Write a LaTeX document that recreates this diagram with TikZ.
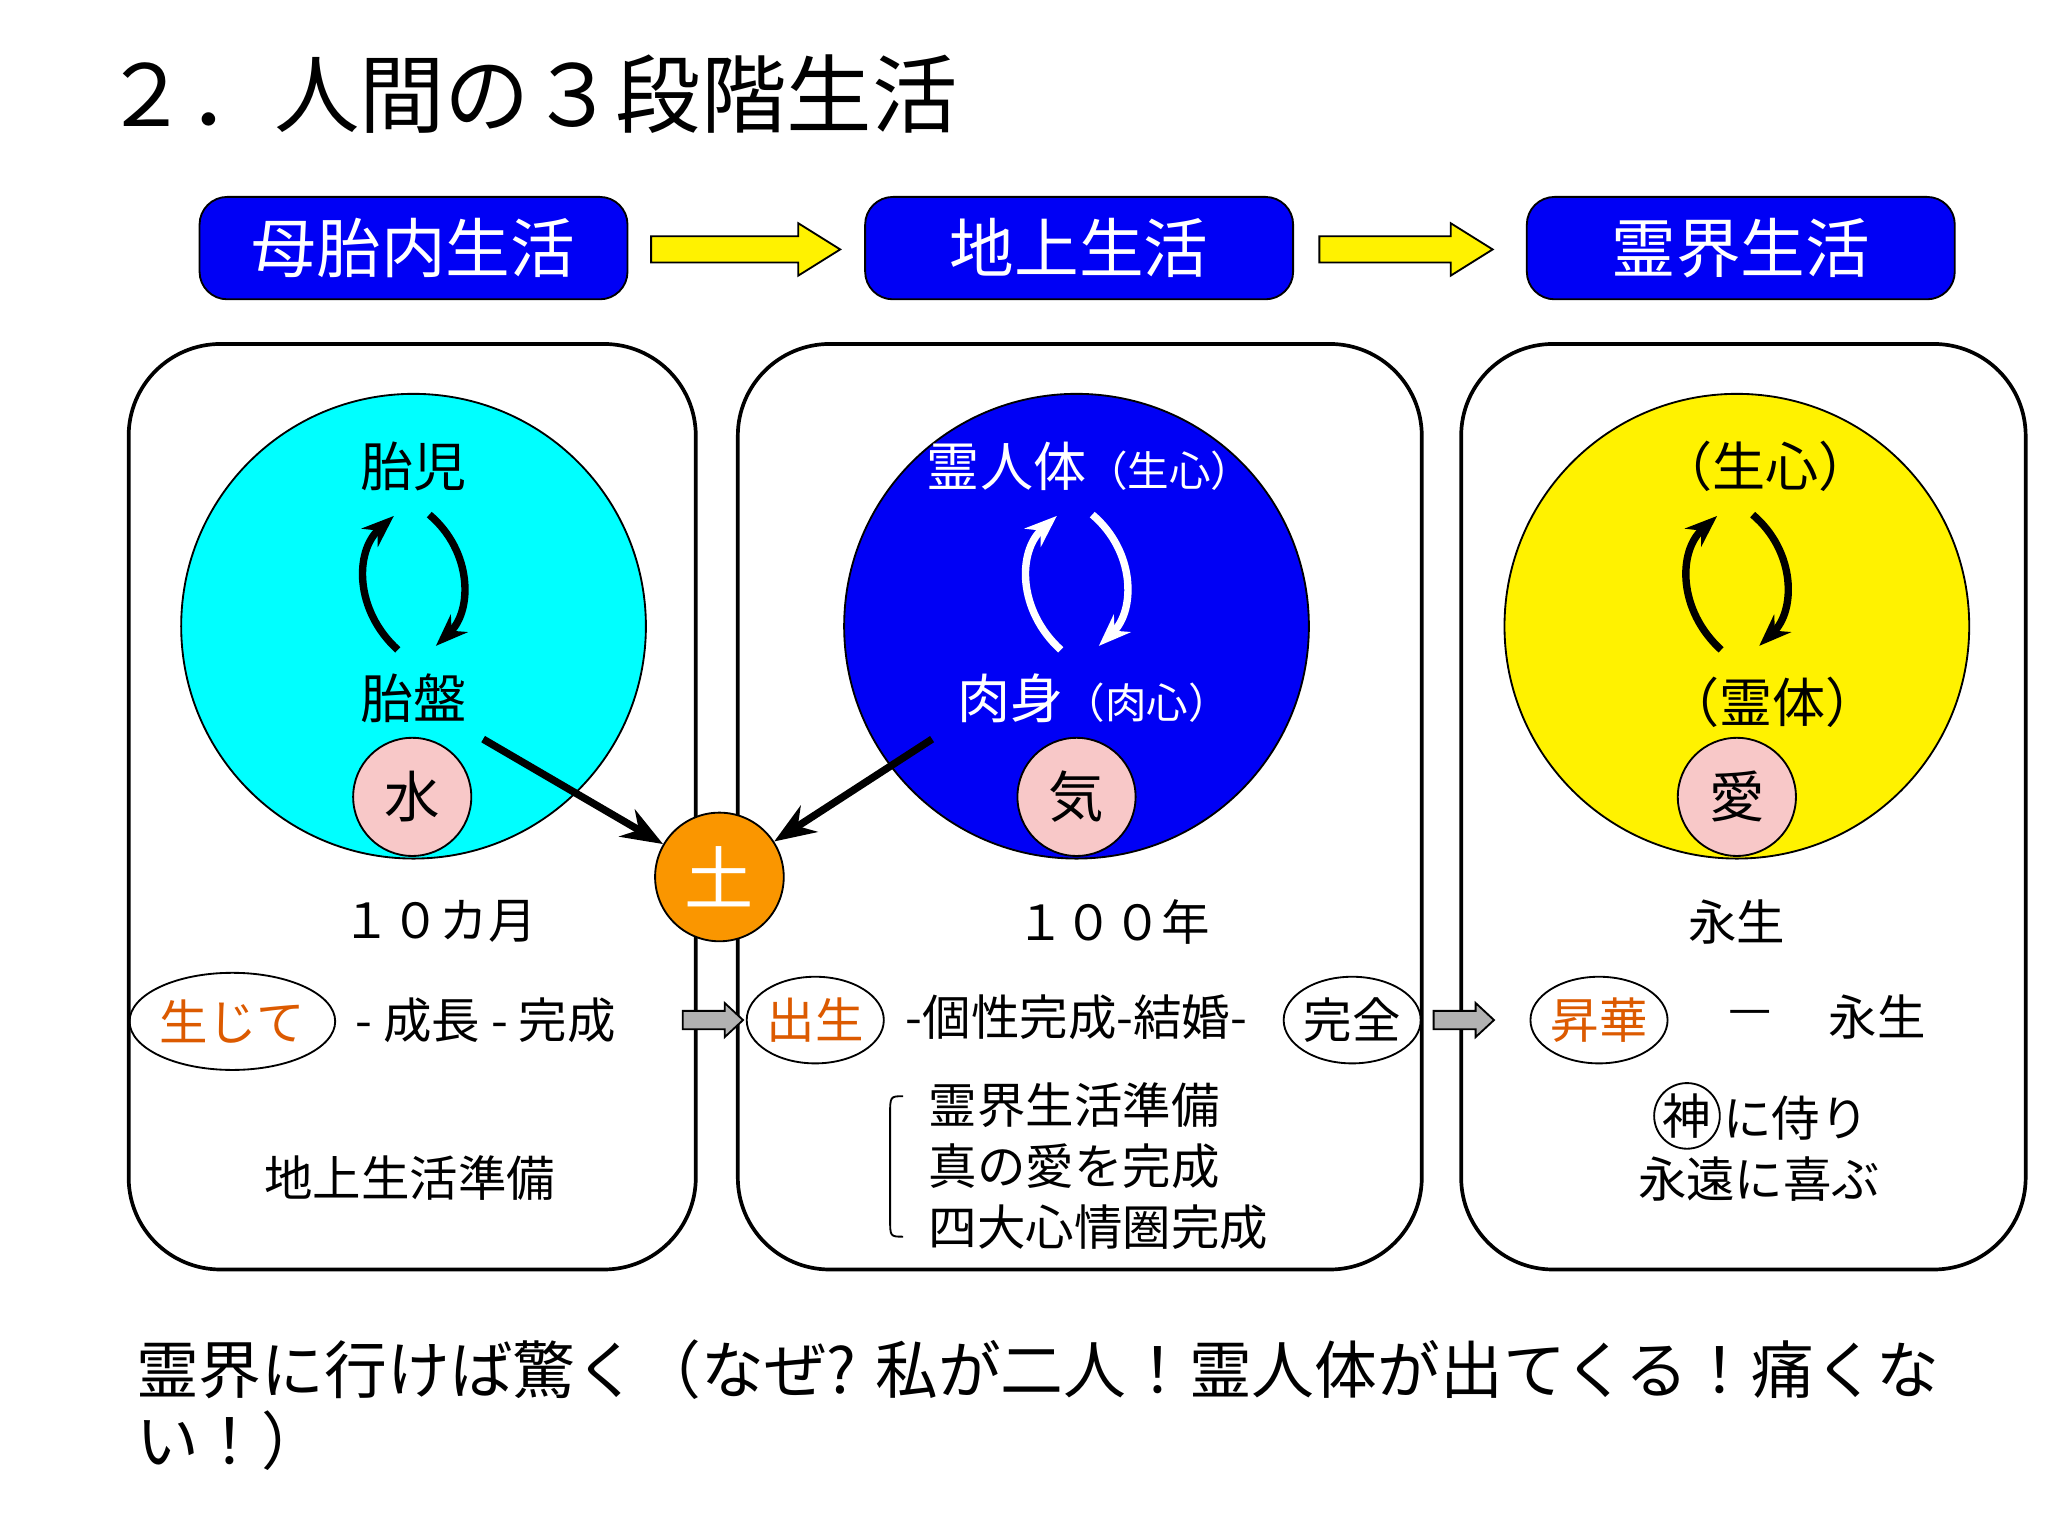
\documentclass[tikz,border=0pt]{standalone}
\usepackage{fontspec}
\setmainfont{Noto Sans CJK JP}
\usetikzlibrary{arrows.meta,shapes.geometric,decorations.pathreplacing}
\definecolor{bb}{RGB}{0,0,245}
\definecolor{cy}{RGB}{0,255,255}
\definecolor{pk}{RGB}{248,200,200}
\definecolor{og}{RGB}{250,150,0}
\definecolor{ot}{RGB}{220,90,0}
\begin{document}
\begin{tikzpicture}[x=0.01cm,y=-0.01cm,
  hdr/.style={draw=black,fill=bb,rounded corners=6pt,minimum width=326*0.01cm,minimum height=78*0.01cm,text=white,font=\fontsize{14}{16}\selectfont},
  panel/.style={draw=black,thick,rounded corners=0.7cm},
  big/.style={circle,draw=black,minimum size=354*0.01cm,inner sep=0},
  sm/.style={circle,draw=black,fill=pk,minimum size=90*0.01cm,inner sep=0,font=\fontsize{12}{14}\selectfont},
  lab/.style={font=\fontsize{11.5}{13}\selectfont},
  mid/.style={font=\fontsize{10.5}{12}\selectfont},
  ell/.style={ellipse,draw=black,inner sep=0pt,font=\fontsize{10.5}{12}\selectfont},
  cyc/.style={line width=1.6pt,-{Stealth[length=7pt]}}]
\useasboundingbox (0,0) rectangle (1560,1170);
\node[anchor=west,font=\fontsize{18.5}{20}\selectfont,inner sep=0] (title) at (78,72) {２．人間の３段階生活};
\node[hdr] (h1) at (315,189) {母胎内生活};
\node[hdr] (h2) at (822,189) {地上生活};
\node[hdr] (h3) at (1326,189) {霊界生活};
\foreach \a/\b in {496/640,1005/1137}{
 \fill[yellow,draw=black] (\a,180)--(\b-32,180)--(\b-32,170)--(\b,190)--(\b-32,210)--(\b-32,200)--(\a,200)--cycle;}
\draw[panel] (98,262) rectangle (530,967);
\draw[panel] (562,262) rectangle (1083,967);
\draw[panel] (1113,262) rectangle (1543,967);
\node[big,fill=cy] (c1) at (315,477) {};
\node[big,fill=bb] (c2) at (820,477) {};
\node[big,fill=yellow] (c3) at (1323,477) {};
\node[sm] (s1) at (314,607) {水};
\node[sm] (s2) at (820,607) {気};
\node[sm] (s3) at (1323,607) {愛};
\node[lab] (a1) at (315,355) {胎児};
\node[lab] (b1) at (315,532) {胎盤};
\node[lab,text=white] (a2) at (830,355) {霊人体\fontsize{9}{10}\selectfont（生心）};
\node[lab,text=white] (b2) at (833,532) {肉身\fontsize{9}{10}\selectfont（肉心）};
\node[lab] (a3) at (1345,355) {（生心）};
\node[lab] (b3) at (1350,535) {（霊体）};
\foreach \x/\c in {315/black,820/white,1323/black}{
 \draw[cyc,\c] (\x-12,495) .. controls (\x-45,465) and (\x-45,420) .. (\x-15,393);
 \draw[cyc,\c] (\x+12,392) .. controls (\x+45,420) and (\x+45,465) .. (\x+17,492);}
\node[circle,draw=black,fill=og,minimum size=98*0.01cm,inner sep=0,text=white,font=\fontsize{15}{17}\selectfont] (d) at (548,668) {土};
\coordinate (p1) at (368,563); \coordinate (p2) at (710,563);
\draw[line width=1.6pt,-{Stealth[length=9pt]}] (p1) -- (d);
\draw[line width=1.6pt,-{Stealth[length=9pt]}] (p2) -- (d);
\node[mid] (t1) at (335,702) {１０カ月};
\node[mid] (t2) at (848,702) {１００年};
\node[mid] (t3) at (1323,702) {永生};
\node[ell,minimum width=134*0.01cm,minimum height=74*0.01cm,text=ot] (e1) at (177,778) {生じて};
\node[mid] (r1) at (370,777) {- 成長 - 完成};
\node[ell,minimum width=90*0.01cm,minimum height=66*0.01cm,text=ot] (e2) at (621,777) {出生};
\node[mid] (r2) at (820,775) {-個性完成-結婚-};
\node[ell,minimum width=88*0.01cm,minimum height=66*0.01cm] (e3) at (1030,777) {完全};
\node[ell,minimum width=90*0.01cm,minimum height=66*0.01cm,text=ot] (e4) at (1218,777) {昇華};
\node[mid] (r3) at (1333,775) {—};
\node[mid] (r4) at (1430,775) {永生};
\foreach \a/\b in {520/566,1092/1138}{
 \fill[gray!60,draw=black] (\a,770)--(\b-14,770)--(\b-14,764)--(\b,777)--(\b-14,790)--(\b-14,784)--(\a,784)--cycle;}
\node[mid] (g1) at (312,897) {地上生活準備};
\draw (688,835) .. controls (678,835) .. (678,850) -- (678,928) .. controls (678,942) .. (688,942);
\node[mid,anchor=west] (l1) at (695,842) {霊界生活準備};
\node[mid,anchor=west] (l2) at (695,888) {真の愛を完成};
\node[mid,anchor=west] (l3) at (695,935) {四大心情圏完成};
\node[circle,draw=black,inner sep=0,minimum size=48*0.01cm,mid] (k) at (1285,850) {神};
\node[mid,anchor=west,inner sep=0] (k2) at (1312,852) {に侍り};
\node[mid] (k3) at (1340,898) {永遠に喜ぶ};
\node[anchor=west,inner sep=0,font=\fontsize{13.6}{15}\selectfont] (f1) at (103,1043) {霊界に行けば驚く（なぜ? 私が二人！霊人体が出てくる！痛くな};
\node[anchor=west,inner sep=0,font=\fontsize{13.6}{15}\selectfont] (f2) at (103,1097) {い！）};
\end{tikzpicture}
\end{document}
